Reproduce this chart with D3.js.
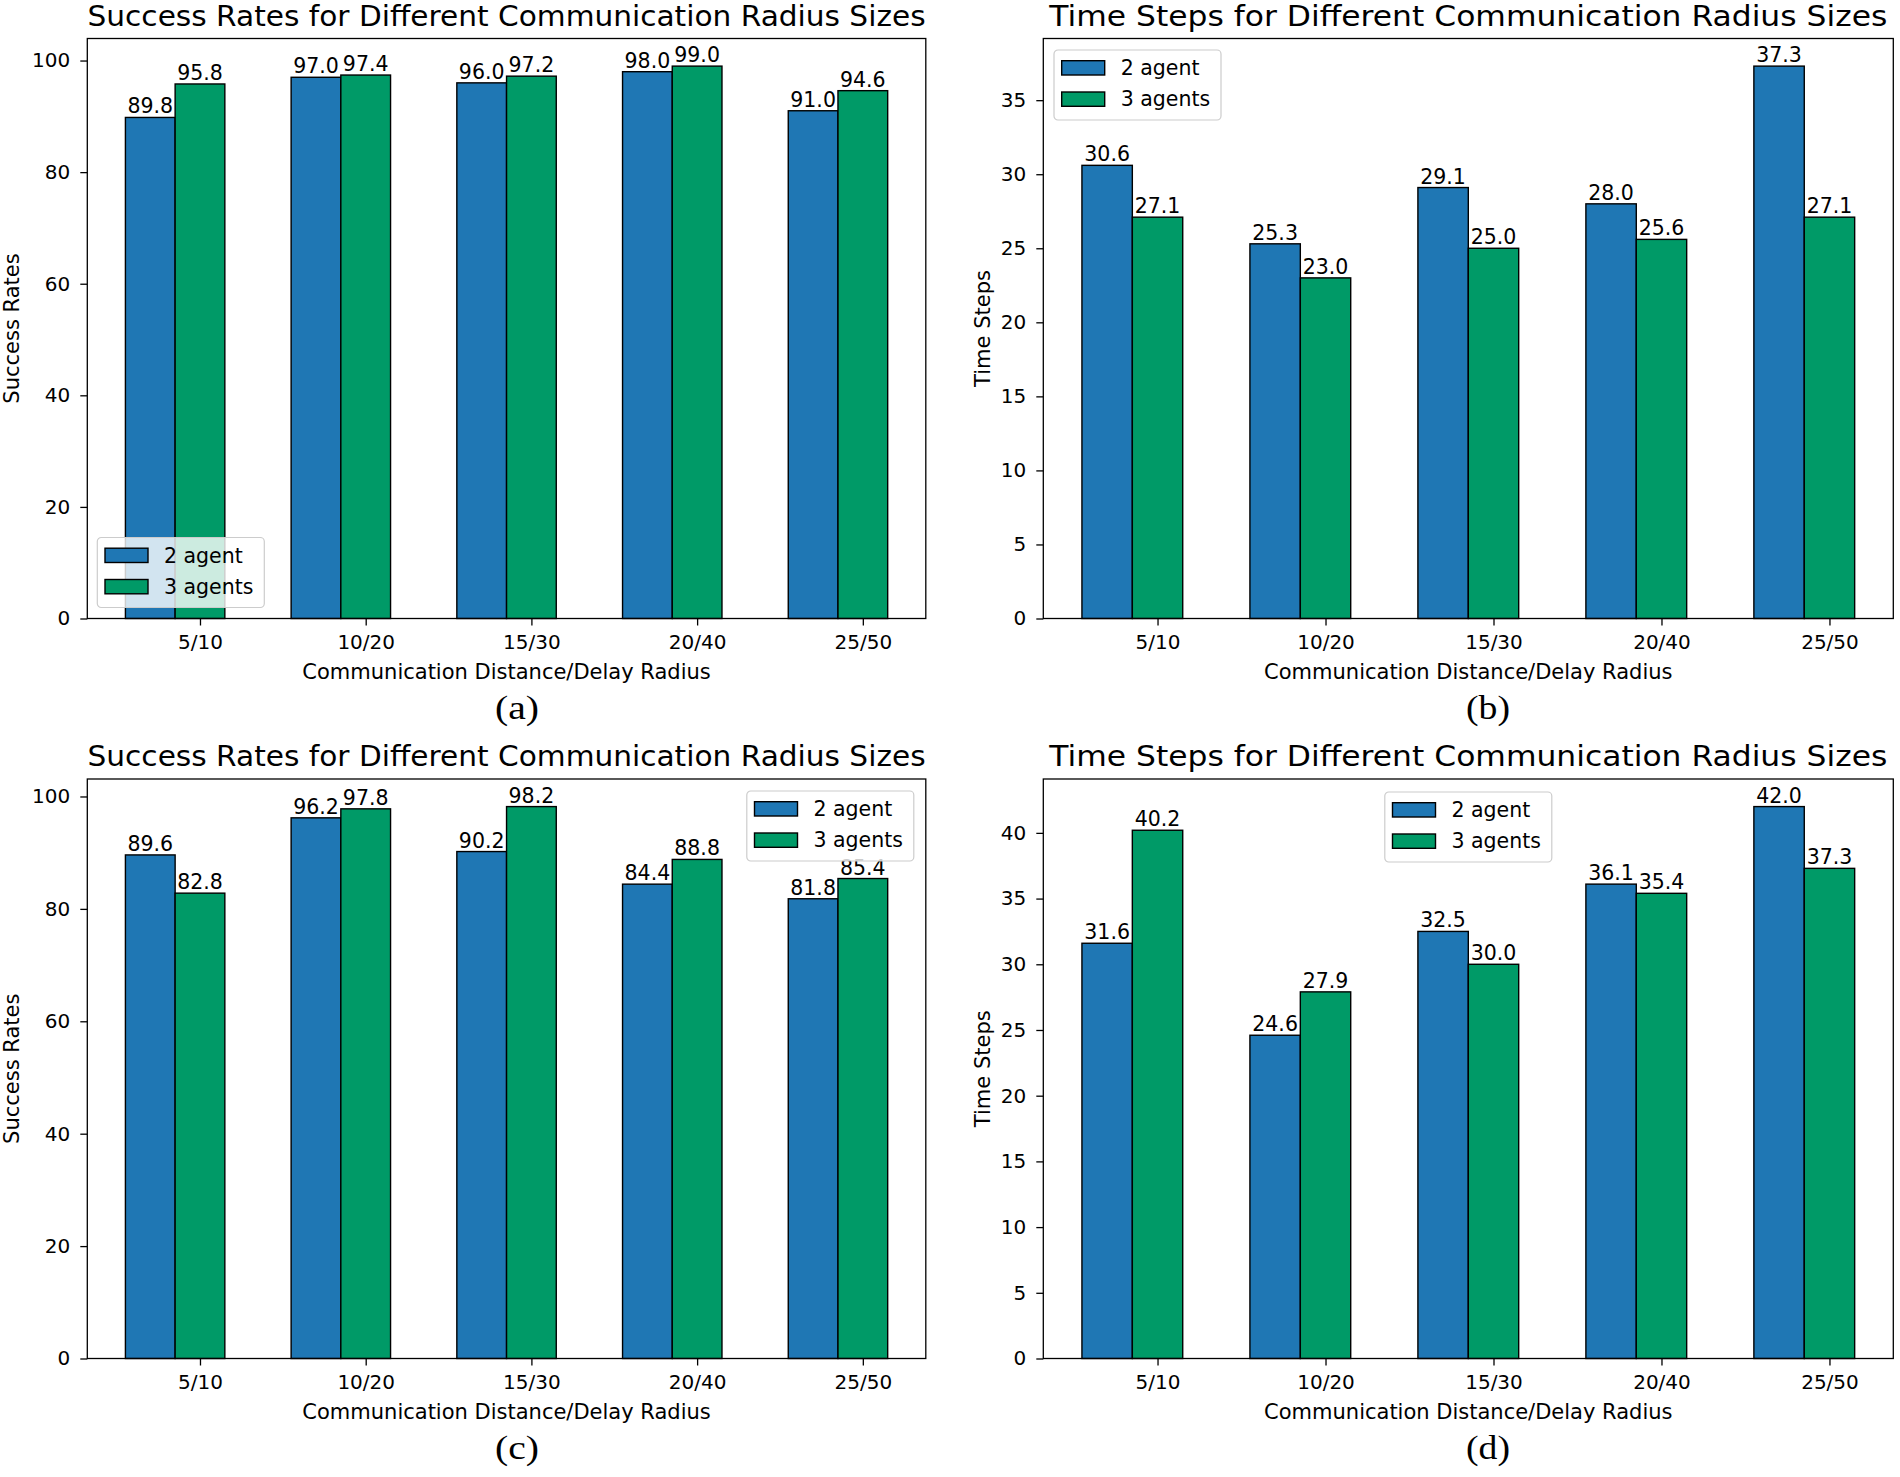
<!DOCTYPE html>
<html>
<head>
<meta charset="utf-8">
<script src="https://cdn.jsdelivr.net/npm/d3@7"></script>
<style>
    body { margin: 0; background: white; }
    text { font-family: "DejaVu Sans", sans-serif; fill: black; }
</style>
</head>
<body>
<div id="chart"></div>
<script>
// data
const categories = ["5/10", "10/20", "15/30", "20/40", "25/50"];
const seriesNames = ["2 agent", "3 agents"];

const successA_2 = [89.8, 97.0, 96.0, 98.0, 91.0];
const successA_3 = [95.8, 97.4, 97.2, 99.0, 94.6];
const stepsB_2 = [30.6, 25.3, 29.1, 28.0, 37.3];
const stepsB_3 = [27.1, 23.0, 25.0, 25.6, 27.1];
const successC_2 = [89.6, 96.2, 90.2, 84.4, 81.8];
const successC_3 = [82.8, 97.8, 98.2, 88.8, 85.4];
const stepsD_2 = [31.6, 24.6, 32.5, 36.1, 42.0];
const stepsD_3 = [40.2, 27.9, 30.0, 35.4, 37.3];

const successTicks = [0, 20, 40, 60, 80, 100];
const stepsTicksB = [0, 5, 10, 15, 20, 25, 30, 35];
const stepsTicksD = [0, 5, 10, 15, 20, 25, 30, 35, 40];

const colors = ["#1f77b4", "#009a67"];
const barWidth = 0.3;

let svg = d3.select("#chart")
    .append("svg")
    .attr("width", 1900)
    .attr("height", 1477);

svg.append("rect")
    .attr("width", 1900)
    .attr("height", 1477)
    .attr("fill", "white");

let panels = [
    {left: 87.3, top: 38.5, width: 838.5, height: 580, two: successA_2, three: successA_3, ticks: successTicks,
     title: "Success Rates for Different Communication Radius Sizes", ylabel: "Success Rates", ylabelX: 18.5,
     legend: "lowerleft", caption: "(a)", captionX: 517},
    {left: 1043.3, top: 38.5, width: 850, height: 580, two: stepsB_2, three: stepsB_3, ticks: stepsTicksB,
     title: "Time Steps for Different Communication Radius Sizes", ylabel: "Time Steps", ylabelX: 990,
     legend: "upperleft", caption: "(b)", captionX: 1488},
    {left: 87.3, top: 779, width: 838.5, height: 579.5, two: successC_2, three: successC_3, ticks: successTicks,
     title: "Success Rates for Different Communication Radius Sizes", ylabel: "Success Rates", ylabelX: 18.5,
     legend: "upperright", caption: "(c)", captionX: 517},
    {left: 1043.3, top: 779, width: 850, height: 579.5, two: stepsD_2, three: stepsD_3, ticks: stepsTicksD,
     title: "Time Steps for Different Communication Radius Sizes", ylabel: "Time Steps", ylabelX: 990,
     legend: "uppercenter", caption: "(d)", captionX: 1488}
];

panels.forEach(drawPanel);

function drawPanel(p) {
    let g = svg.append("g")
        .attr("transform", `translate(${p.left}, ${p.top})`);

    let x = d3.scaleLinear()
        .domain([-barWidth - 0.23, categories.length - 1 + barWidth + 0.23])
        .range([0, p.width]);
    let y = d3.scaleLinear()
        .domain([0, d3.max(p.two.concat(p.three)) * 1.05])
        .range([p.height, 0]);

    let series = [
        {name: seriesNames[0], values: p.two, offset: -barWidth, color: colors[0]},
        {name: seriesNames[1], values: p.three, offset: 0, color: colors[1]}
    ];

    series.forEach(function(s) {
        g.append("g")
            .selectAll("rect")
            .data(s.values)
            .enter()
            .append("rect")
            .attr("x", function(d, i) { return x(i + s.offset); })
            .attr("width", x(barWidth) - x(0))
            .attr("y", function(d) { return y(d); })
            .attr("height", function(d) { return y(0) - y(d); })
            .attr("fill", s.color)
            .attr("stroke", "black")
            .attr("stroke-width", 1.4);

        g.append("g")
            .selectAll("text")
            .data(s.values)
            .enter()
            .append("text")
            .attr("x", function(d, i) { return x(i + s.offset + barWidth / 2); })
            .attr("y", function(d) { return y(d) - 4; })
            .attr("text-anchor", "middle")
            .style("font-size", "20.5px")
            .text(function(d) { return d.toFixed(1); });
    });

    // axes
    let yAxis = g.append("g")
        .call(d3.axisLeft(y).tickValues(p.ticks).tickSize(7).tickPadding(10).tickFormat(d3.format("d")));
    let xAxis = g.append("g")
        .attr("transform", `translate(0, ${p.height})`)
        .call(d3.axisBottom(x)
            .tickValues(categories.map(function(c, i) { return i + barWidth / 2; }))
            .tickSize(7)
            .tickPadding(9)
            .tickFormat(function(d, i) { return categories[i]; }));

    [xAxis, yAxis].forEach(function(a) {
        a.select(".domain").remove();
        a.selectAll("line").attr("stroke", "black").attr("stroke-width", 1.3);
        a.selectAll("text")
            .style("font-family", "DejaVu Sans")
            .style("font-size", "20px")
            .attr("fill", "black");
    });

    g.append("rect")
        .attr("width", p.width)
        .attr("height", p.height)
        .attr("fill", "none")
        .attr("stroke", "black")
        .attr("stroke-width", 1.3);

    // titles and labels
    g.append("text")
        .attr("x", p.width / 2)
        .attr("y", -13)
        .attr("text-anchor", "middle")
        .attr("textLength", 838)
        .attr("lengthAdjust", "spacingAndGlyphs")
        .style("font-size", "27.5px")
        .text(p.title);

    g.append("text")
        .attr("x", p.width / 2)
        .attr("y", p.height + 60.5)
        .attr("text-anchor", "middle")
        .style("font-size", "21px")
        .text("Communication Distance/Delay Radius");

    svg.append("text")
        .attr("transform", `translate(${p.ylabelX}, ${p.top + p.height / 2}) rotate(-90)`)
        .attr("text-anchor", "middle")
        .style("font-size", "21px")
        .text(p.ylabel);

    svg.append("text")
        .attr("x", p.captionX)
        .attr("y", p.top + p.height + 100.5)
        .attr("text-anchor", "middle")
        .attr("textLength", 44)
        .attr("lengthAdjust", "spacingAndGlyphs")
        .style("font-family", "Liberation Serif, serif")
        .style("font-size", "34px")
        .text(p.caption);

    // legend
    let lw = 167, lh = 70, lx, ly;
    if (p.legend == "lowerleft") { lx = 10; ly = p.height - 11 - lh; }
    if (p.legend == "upperleft") { lx = 10.7; ly = 11.5; }
    if (p.legend == "upperright") { lx = p.width - 12 - lw; ly = 12; }
    if (p.legend == "uppercenter") { lx = p.width / 2 - lw / 2; ly = 13; }

    let legend = g.append("g")
        .attr("transform", `translate(${lx}, ${ly})`);
    legend.append("rect")
        .attr("width", lw)
        .attr("height", lh)
        .attr("rx", 4)
        .attr("fill", "white")
        .attr("fill-opacity", 0.8)
        .attr("stroke", "#cccccc")
        .attr("stroke-width", 1.2);

    let items = legend.selectAll("g")
        .data(series)
        .enter()
        .append("g")
        .attr("transform", function(d, i) { return `translate(0, ${i * 31.3})`; });
    items.append("rect")
        .attr("x", 7.7)
        .attr("y", 10.7)
        .attr("width", 43)
        .attr("height", 14.3)
        .attr("fill", function(d) { return d.color; })
        .attr("stroke", "black")
        .attr("stroke-width", 1.4);
    items.append("text")
        .attr("x", 66.7)
        .attr("y", 25)
        .style("font-size", "20.5px")
        .text(function(d) { return d.name; });
}
</script>
</body>
</html>
